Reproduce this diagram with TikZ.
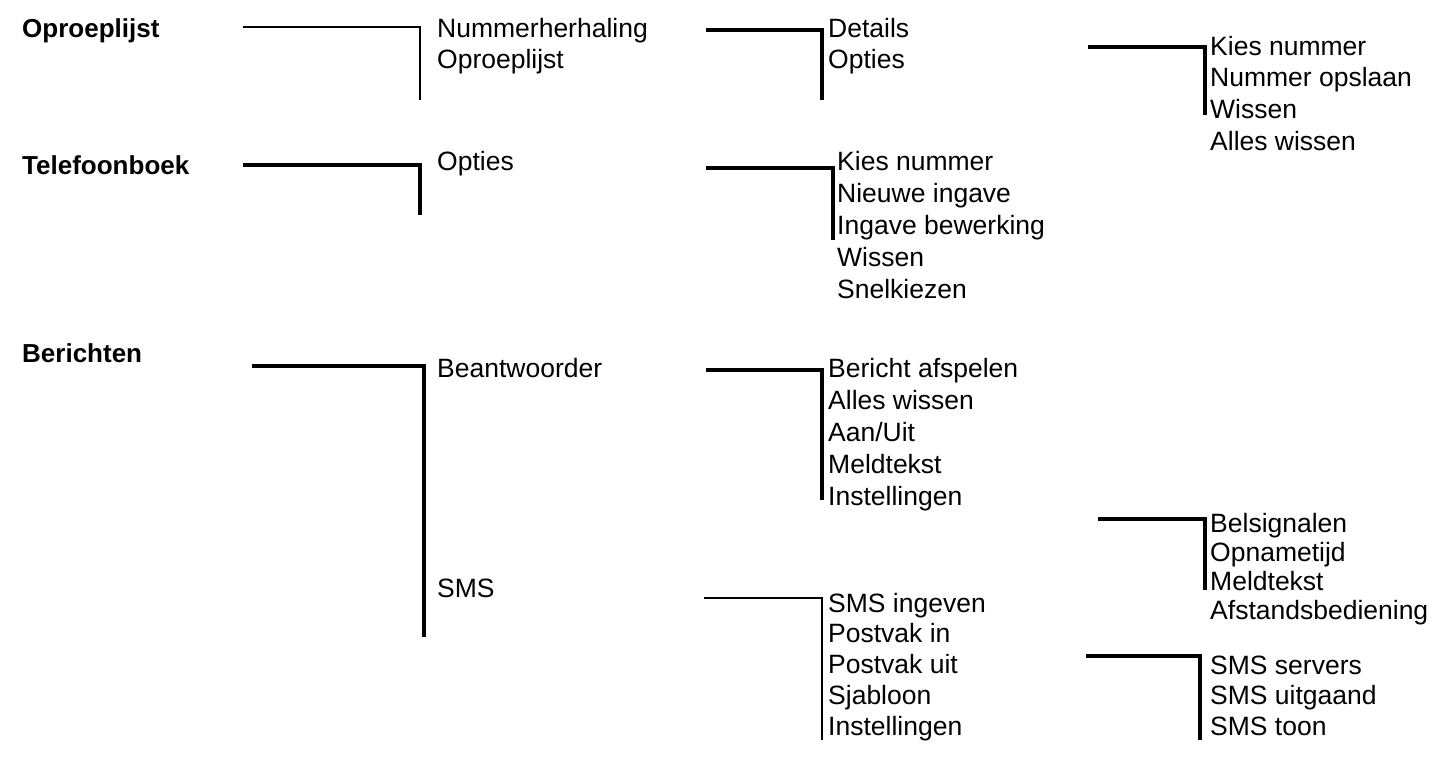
\documentclass[tikz,border=0pt]{standalone}
\usepackage{fontspec}
\setmainfont{Liberation Sans}
\begin{document}
\begin{tikzpicture}[x=1pt,y=-1pt,
  lbl/.style={anchor=west,inner sep=0pt,text height=19pt,text depth=5pt,font=\fontsize{26.5}{30}\selectfont},
  hd/.style={lbl,font=\fontsize{26}{30}\selectfont\bfseries},
  conn/.style={line width=#1}]
\useasboundingbox (0,0) rectangle (1445,756);
\node[hd] (h1) at (22,30) {Oproeplijst};
\node[hd] (h2) at (22,167) {Telefoonboek};
\node[hd] (h3) at (22,355) {Berichten};
\foreach \x/\y/\s/\n/\lst in {
  437/30/31/a/{Nummerherhaling,Oproeplijst},
  437/163/31/b/{Opties},
  437/370/31/c/{Beantwoorder},
  437/590/31/d/{SMS},
  828/30/31/e/{Details,Opties},
  837/163/32.2/f/{Kies nummer,Nieuwe ingave,Ingave bewerking,Wissen,Snelkiezen},
  828/370/32/g/{Bericht afspelen,Alles wissen,Aan/Uit,Meldtekst,Instellingen},
  828/605/30.8/h/{SMS ingeven,Postvak in,Postvak uit,Sjabloon,Instellingen},
  1210/48/31.7/i/{Kies nummer,Nummer opslaan,Wissen,Alles wissen},
  1210/525/29.3/j/{Belsignalen,Opnametijd,Meldtekst,Afstandsbediening},
  1210/667/30.5/k/{SMS servers,SMS uitgaand,SMS toon}}{
  \foreach \t [count=\i from 0] in \lst {
    \node[lbl] (\n\i) at (\x,\y+\i*\s) {\t};
  }
}
\foreach \a/\b/\c/\d/\w in {
  243/27/420/100/1.3, 243/165/420/215/3.2, 252/366/424/637/3.2,
  706/30/822/100/3.2, 706/168/833/240/3.2, 706/370/822/500/3.2,
  704/598/822/740/1.3, 1088/47/1205/115/3.2, 1098/519/1205/590/3.2,
  1086/656/1200/740/3.2}{
  \coordinate (s) at (\a,\b); \coordinate (c) at (\c,\b); \coordinate (e) at (\c,\d);
  \draw[line width=\w pt] (s) -- (c) -- (e);
}
\end{tikzpicture}
\end{document}
